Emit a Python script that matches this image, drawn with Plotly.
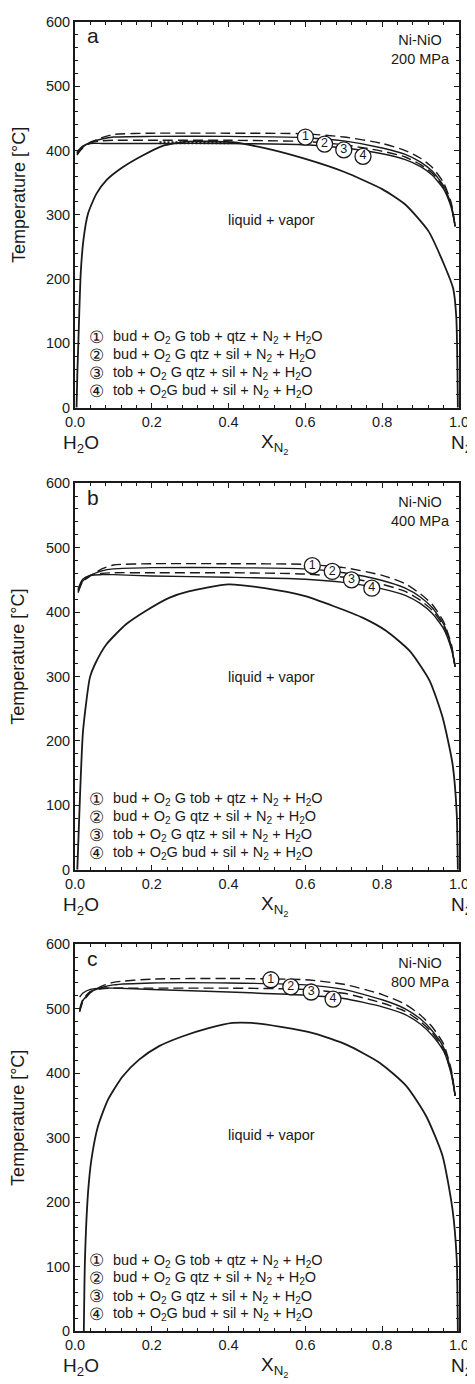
import plotly.graph_objects as go

# ---------------- data ----------------
panel_letters = ["a", "b", "c"]
pressures = ["200 MPa", "400 MPa", "800 MPa"]

# reaction curves (x = X_N2, T in degC)
curve_x_a = [0.005, 0.02, 0.04, 0.07, 0.1, 0.2, 0.4, 0.6, 0.7, 0.8, 0.86, 0.9, 0.93, 0.96, 0.98, 0.99]
r1_a = [393, 404, 412, 420, 425, 427, 427, 426, 421, 411, 400, 388, 374, 350, 318, 282]
r2_a = [395, 405, 413, 418, 421, 422, 422, 420, 415, 404, 394, 382, 368, 345, 315, 282]
r3_a = [396, 406, 412, 415, 416, 416, 416, 414, 409, 399, 390, 378, 365, 343, 313, 282]
r4_a = [398, 407, 411, 411, 411, 411, 411, 409, 404, 395, 386, 375, 362, 340, 311, 282]

curve_x_b = [0.008, 0.02, 0.04, 0.07, 0.1, 0.2, 0.4, 0.6, 0.7, 0.8, 0.86, 0.9, 0.93, 0.96, 0.98, 0.99]
r1_b = [430, 447, 456, 467, 473, 475, 475, 474, 469, 457, 444, 428, 412, 385, 350, 315]
r2_b = [432, 448, 457, 464, 467, 469, 469, 467, 461, 449, 437, 423, 407, 381, 347, 315]
r3_b = [434, 450, 457, 460, 461, 461, 461, 459, 454, 443, 432, 418, 403, 378, 345, 315]
r4_b = [436, 451, 457, 458, 458, 456, 454, 451, 446, 436, 426, 413, 398, 374, 343, 315]

curve_x_c = [0.012, 0.02, 0.04, 0.07, 0.1, 0.2, 0.4, 0.6, 0.7, 0.8, 0.86, 0.9, 0.93, 0.96, 0.98, 0.99]
r1_c = [495, 510, 525, 535, 541, 546, 547, 545, 538, 522, 507, 490, 472, 445, 405, 365]
r2_c = [497, 512, 526, 533, 537, 540, 540, 537, 530, 514, 500, 484, 466, 440, 402, 365]
r3_c = [499, 514, 527, 531, 532, 532, 532, 530, 524, 509, 496, 480, 463, 437, 400, 365]
r4_c = [518, 524, 530, 532, 532, 530, 526, 521, 516, 503, 491, 476, 459, 434, 398, 365]

# liquid + vapor solvus
solvus_x_a = [0.004, 0.006, 0.009, 0.015, 0.022, 0.034, 0.056, 0.082, 0.124, 0.175, 0.227, 0.29, 0.36,
              0.41, 0.5, 0.6, 0.7, 0.8, 0.86, 0.92, 0.963, 0.985, 0.993, 0.996, 0.997]
solvus_t_a = [0, 50, 107, 210, 261, 302, 333, 354, 374, 392, 407, 414, 414,
              413, 403, 387, 367, 340, 316, 275, 220, 185, 140, 60, 0]

solvus_x_b = [0.006, 0.013, 0.021, 0.039, 0.052, 0.082, 0.133, 0.185, 0.245, 0.296, 0.4,
              0.494, 0.597, 0.674, 0.75, 0.81, 0.871, 0.923, 0.957, 0.983, 0.994, 0.997]
solvus_t_b = [0, 114, 216, 299, 319, 350, 381, 402, 422, 432, 443,
              437, 425, 409, 391, 371, 340, 294, 237, 165, 88, 0]

solvus_x_c = [0.023, 0.026, 0.034, 0.043, 0.06, 0.086, 0.124, 0.167, 0.219, 0.279, 0.348, 0.41, 0.46,
              0.536, 0.622, 0.708, 0.794, 0.863, 0.914, 0.957, 0.983, 0.994, 0.997]
solvus_t_c = [0, 112, 215, 267, 318, 359, 395, 421, 442, 457, 470, 478, 478,
              472, 462, 444, 416, 380, 334, 272, 189, 112, 0]

# metastable dotted segment (panel a)
dotted_x_a = [0.22, 0.41]
dotted_t_a = [412, 412]

# numbered reaction labels on the curves
label_nums = ["1", "2", "3", "4"]
label_x_a = [0.60, 0.65, 0.70, 0.75]
label_t_a = [421, 410, 401, 391]
label_x_b = [0.618, 0.67, 0.72, 0.773]
label_t_b = [472, 463, 450, 437]
label_x_c = [0.51, 0.562, 0.615, 0.672]
label_t_c = [545, 534, 526, 515]

legend_circles = ["①", "②", "③", "④"]
legend_texts = [
    "bud + O<sub>2</sub> G tob + qtz + N<sub>2</sub> + H<sub>2</sub>O",
    "bud + O<sub>2</sub> G qtz + sil + N<sub>2</sub> + H<sub>2</sub>O",
    "tob + O<sub>2</sub> G qtz + sil + N<sub>2</sub> + H<sub>2</sub>O",
    "tob + O<sub>2</sub>G bud + sil + N<sub>2</sub> + H<sub>2</sub>O",
]

x_ticks = [0.0, 0.2, 0.4, 0.6, 0.8, 1.0]
y_ticks = [0, 100, 200, 300, 400, 500, 600]

panels = [
    dict(cx=curve_x_a, r=[r1_a, r2_a, r3_a, r4_a], sx=solvus_x_a, st=solvus_t_a,
         lx=label_x_a, lt=label_t_a, dotted=(dotted_x_a, dotted_t_a)),
    dict(cx=curve_x_b, r=[r1_b, r2_b, r3_b, r4_b], sx=solvus_x_b, st=solvus_t_b,
         lx=label_x_b, lt=label_t_b, dotted=None),
    dict(cx=curve_x_c, r=[r1_c, r2_c, r3_c, r4_c], sx=solvus_x_c, st=solvus_t_c,
         lx=label_x_c, lt=label_t_c, dotted=None),
]

# ---------------- figure ----------------
FONT = "Liberation Sans, Arial, Helvetica, sans-serif"
INK = "#1a1a1a"
domains = [[0.7054, 1.0], [0.3523, 0.6477], [0.0, 0.2954]]
dashes = ["10px,5px", "solid", "10px,5px", "solid"]

fig = go.Figure()
annotations = []

for i, p in enumerate(panels):
    sfx = "" if i == 0 else str(i + 1)
    xref, yref = "x" + sfx, "y" + sfx
    xd, yd = f"x{sfx} domain", f"y{sfx} domain"

    fig.add_trace(go.Scatter(x=p["sx"], y=p["st"], mode="lines", xaxis=xref, yaxis=yref,
                             line=dict(color=INK, width=1.8, shape="spline", smoothing=0.6),
                             showlegend=False, hoverinfo="skip"))
    if p["dotted"]:
        fig.add_trace(go.Scatter(x=p["dotted"][0], y=p["dotted"][1], mode="lines",
                                 xaxis=xref, yaxis=yref,
                                 line=dict(color=INK, width=3, dash="2px,2px"),
                                 showlegend=False, hoverinfo="skip"))
    for k, rt in enumerate(p["r"]):
        fig.add_trace(go.Scatter(x=p["cx"], y=rt, mode="lines", xaxis=xref, yaxis=yref,
                                 line=dict(color=INK, width=1.4, dash=dashes[k],
                                           shape="spline", smoothing=0.6),
                                 showlegend=False, hoverinfo="skip"))
    fig.add_trace(go.Scatter(x=p["lx"], y=p["lt"], mode="markers+text", xaxis=xref, yaxis=yref,
                             text=label_nums, textposition="middle center",
                             textfont=dict(family=FONT, size=12.5, color=INK),
                             marker=dict(size=16, color="white", line=dict(color=INK, width=1.3)),
                             showlegend=False, hoverinfo="skip", cliponaxis=False))

    common = dict(showline=True, linecolor=INK, linewidth=2, mirror="allticks",
                  ticks="inside", ticklen=5, tickwidth=1.2, tickcolor=INK,
                  showgrid=False, zeroline=False, ticklabeloverflow="allow",
                  tickfont=dict(family=FONT, size=14.5, color=INK))
    fig.update_layout(**{
        "xaxis" + sfx: dict(common, range=[0, 1], tickvals=x_ticks, tickformat=".1f",
                            domain=[0, 1], anchor=yref, ticklabelstandoff=0,
                            minor=dict(dtick=0.04, ticks="inside", ticklen=3, tickcolor=INK,
                                       tickwidth=1, showgrid=False)),
        "yaxis" + sfx: dict(common, range=[0, 600], tickvals=y_ticks, domain=domains[i],
                            anchor=xref, ticklabelstandoff=0,
                            minor=dict(dtick=20, ticks="inside", ticklen=3, tickcolor=INK,
                                       tickwidth=1, showgrid=False)),
    })

    f15 = dict(family=FONT, size=14.5, color=INK)
    annotations += [
        dict(xref=xd, yref=yd, x=0.026, y=0.964, text=panel_letters[i], showarrow=False,
             xanchor="left", yanchor="middle", font=dict(family=FONT, size=21, color=INK)),
        dict(xref=xd, yref=yd, x=0.899, y=0.928, text="Ni-NiO<br>" + pressures[i],
             showarrow=False, align="center", xanchor="center", yanchor="middle", font=f15),
        dict(xref=xd, yref=yd, x=0.511, y=[0.487, 0.499, 0.506][i], text="liquid + vapor",
             showarrow=False, xanchor="center", yanchor="middle", font=f15),
        dict(xref=xd, yref=yd, x=0.015, y=0, yshift=-36, text="H<sub>2</sub>O",
             showarrow=False, xanchor="center", yanchor="middle",
             font=dict(family=FONT, size=19, color=INK)),
        dict(xref=xd, yref=yd, x=0.52, y=0, yshift=-36, text="X<sub>N<sub>2</sub></sub>",
             showarrow=False, xanchor="center", yanchor="middle",
             font=dict(family=FONT, size=19, color=INK)),
        dict(xref=xd, yref=yd, x=1.0, y=0, yshift=-36, xshift=-10, text="N<sub>2</sub>",
             showarrow=False, xanchor="left", yanchor="middle",
             font=dict(family=FONT, size=19, color=INK)),
        dict(xref=xd, yref=yd, x=-0.147, y=0.55, text="Temperature [°C]", textangle=-90,
             showarrow=False, xanchor="center", yanchor="middle",
             font=dict(family=FONT, size=18, color=INK)),
    ]
    leg_y = [0.182, 0.136, 0.089, 0.043]
    for k in range(4):
        annotations.append(dict(xref=xd, yref=yd, x=0.056, y=leg_y[k], text=legend_circles[k],
                                showarrow=False, xanchor="center", yanchor="middle",
                                font=dict(family=FONT, size=17, color=INK)))
        annotations.append(dict(xref=xd, yref=yd, x=0.093, y=leg_y[k], text=legend_texts[k],
                                showarrow=False, xanchor="left", yanchor="middle", font=f15))

# the page body adds an 8px margin, so the figure is 8px smaller than the window
fig.update_layout(
    width=467, height=1376,
    margin=dict(l=67, r=12, t=6, b=53),
    paper_bgcolor="white", plot_bgcolor="white",
    font=dict(family=FONT, color=INK),
    annotations=annotations,
    showlegend=False,
)

fig.write_html("out.html")
